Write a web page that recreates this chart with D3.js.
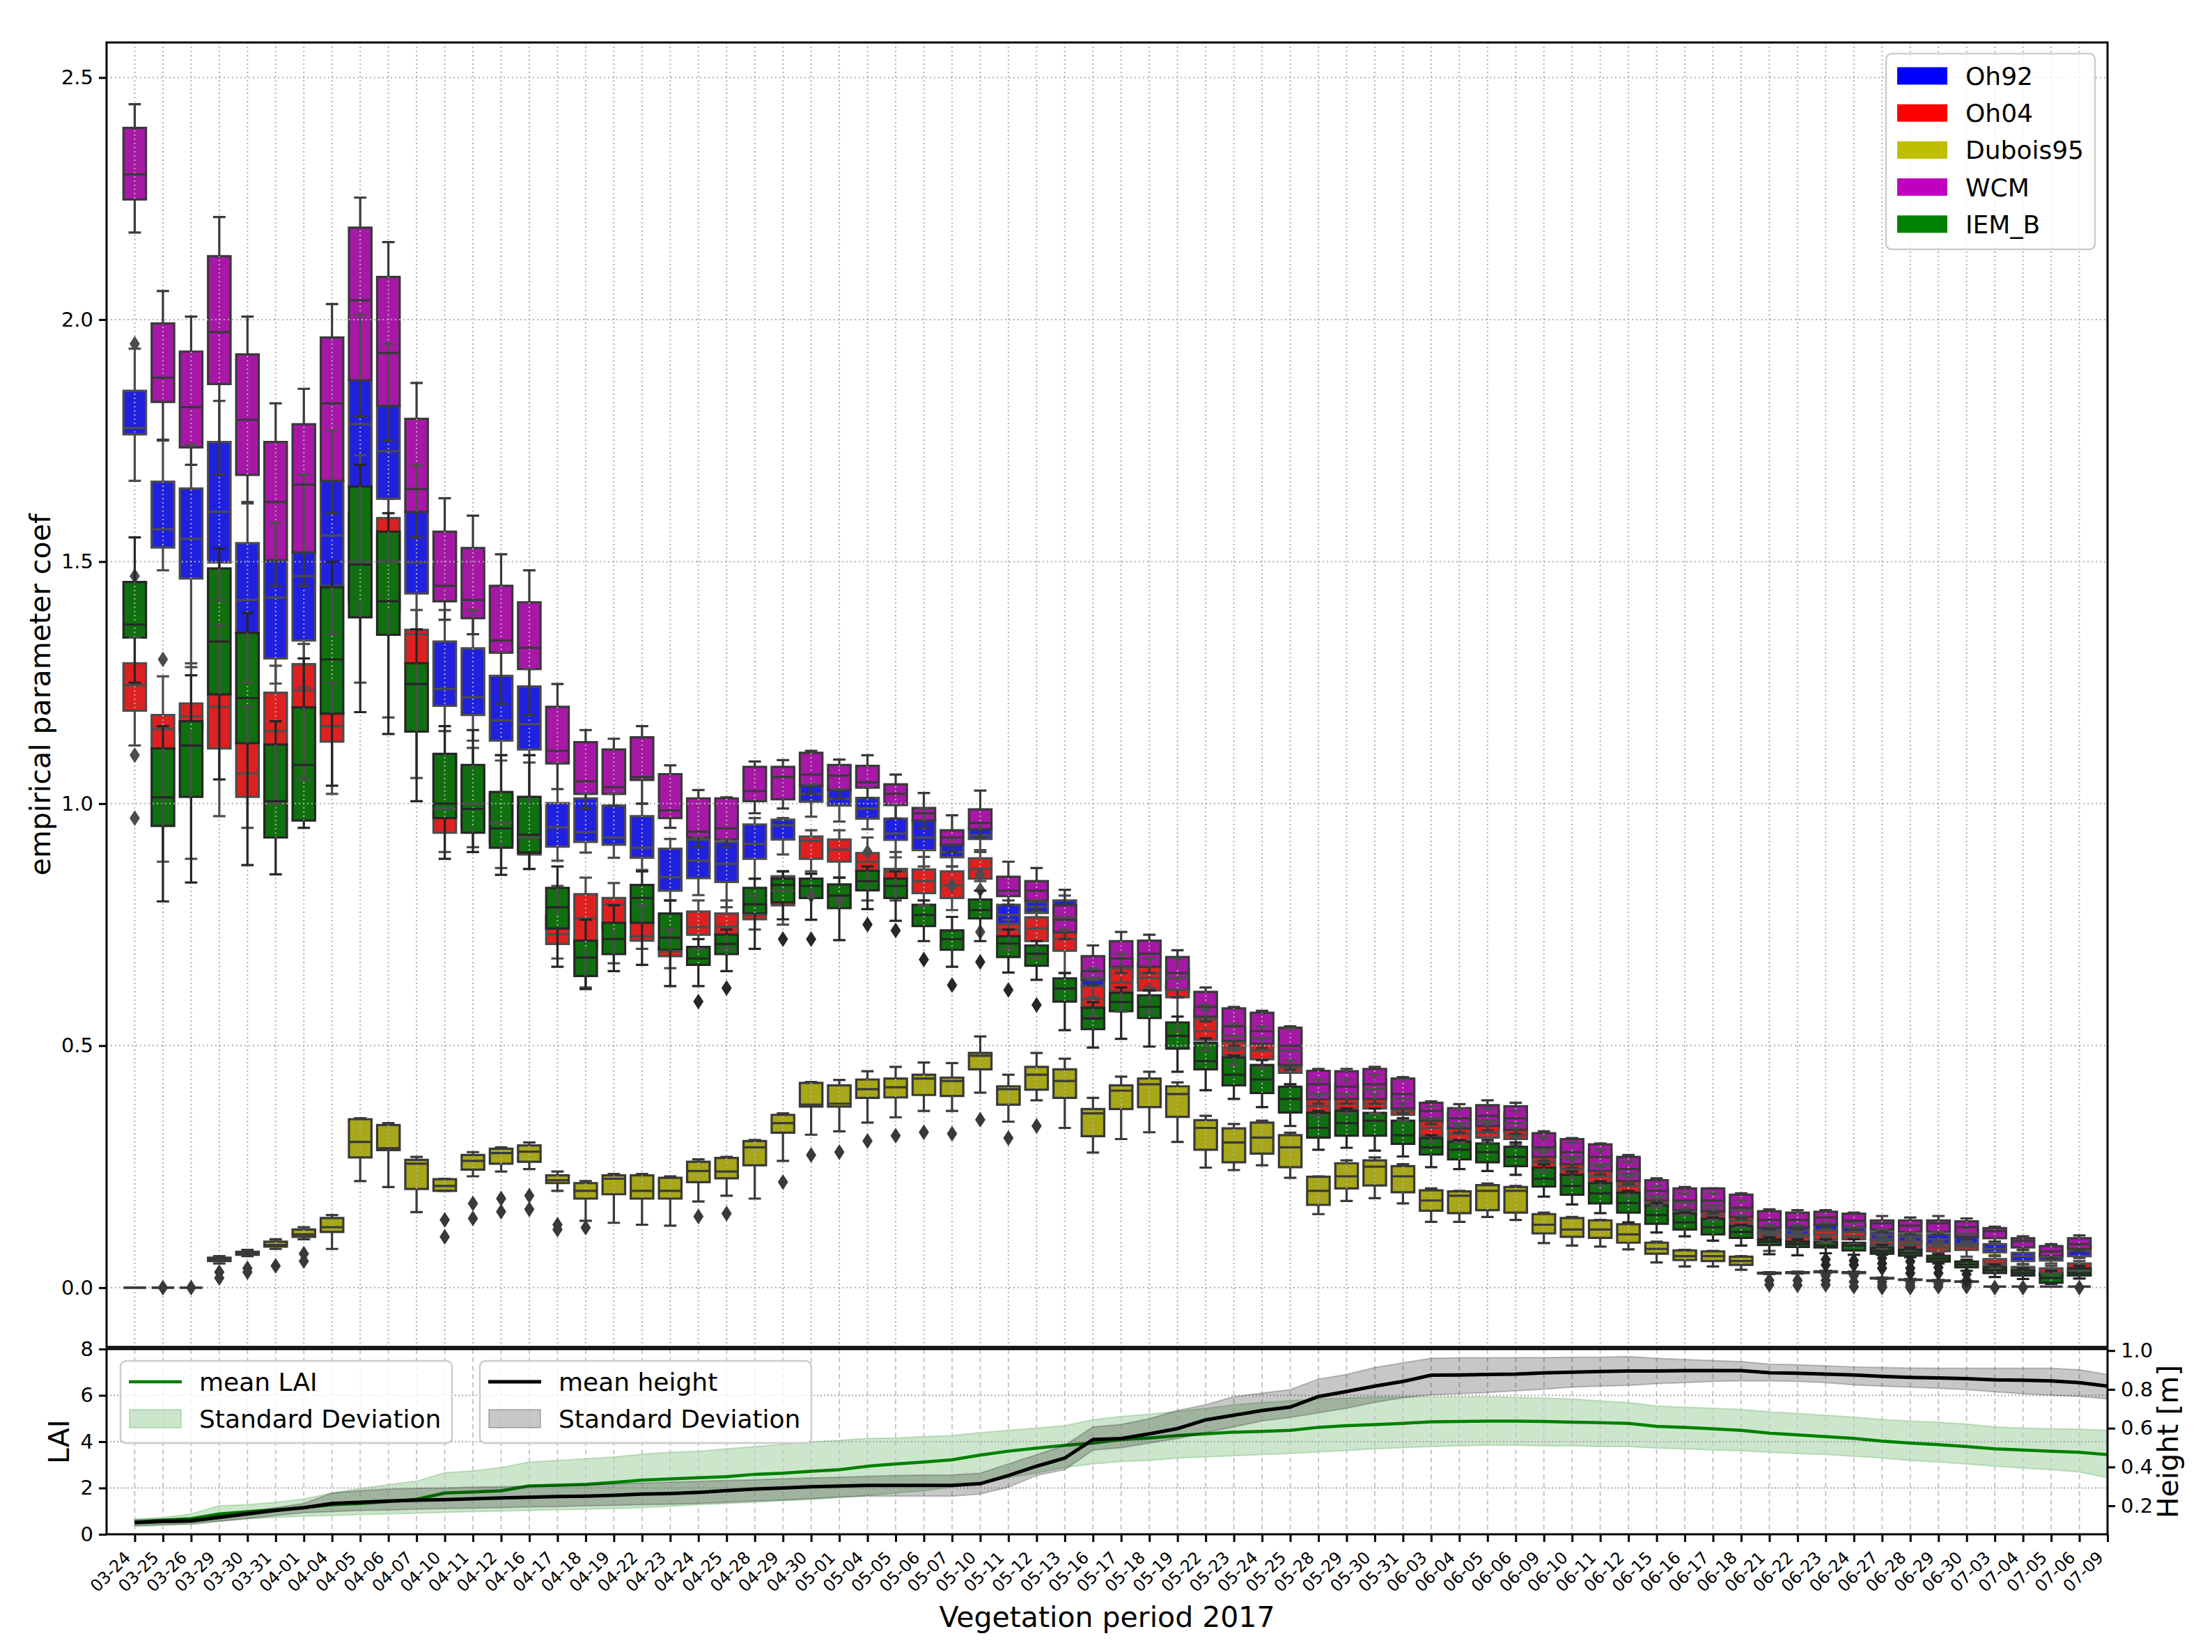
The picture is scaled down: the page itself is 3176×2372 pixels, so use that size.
<!DOCTYPE html>
<html>
<head>
<meta charset="utf-8">
<script src="https://cdn.jsdelivr.net/npm/d3@7"></script>
<style>
  body { margin: 0; background: #fff; }
  text { font-family: "DejaVu Sans", sans-serif; }
</style>
</head>
<body>
<div id="chart"></div>
<script>
// tick labels of the shared x axis (71 dates, positions 0..70)
const dates = ['03-24','03-25','03-26','03-29','03-30','03-31','04-01','04-04','04-05','04-06','04-07','04-10','04-11','04-12','04-16','04-17','04-18','04-19','04-22','04-23','04-24','04-25','04-28','04-29','04-30','05-01','05-04','05-05','05-06','05-07','05-10','05-11','05-12','05-13','05-16','05-17','05-18','05-19','05-22','05-23','05-24','05-25','05-28','05-29','05-30','05-31','06-03','06-04','06-05','06-06','06-09','06-10','06-11','06-12','06-15','06-16','06-17','06-18','06-21','06-22','06-23','06-24','06-27','06-28','06-29','06-30','07-03','07-04','07-05','07-06','07-09'];

const modelNames = ['Oh92', 'Oh04', 'Dubois95', 'WCM', 'IEM_B'];

// box statistics per position: [lower whisker, q1, median, q3, upper whisker]
const oh92Stats = [
[1.667,1.763,1.776,1.853,1.94],[1.482,1.529,1.567,1.665,1.75],[1.282,1.465,1.547,1.651,1.742],[1.42,1.498,1.603,1.747,1.832],
[1.25,1.353,1.421,1.538,1.62],[1.248,1.30,1.426,1.503,1.58],[1.24,1.337,1.47,1.519,1.68],[1.35,1.45,1.554,1.667,1.77],
[1.50,1.655,1.784,1.875,2.01],[1.50,1.63,1.728,1.822,1.95],[1.36,1.434,1.498,1.603,1.70],[1.15,1.202,1.237,1.335,1.40],
[1.13,1.183,1.22,1.321,1.40],[1.10,1.13,1.172,1.264,1.312],[1.10,1.112,1.164,1.242,1.278],[0.882,0.911,0.951,1.001,1.083],
[0.899,0.921,0.941,1.011,1.02],[0.888,0.915,0.93,0.996,1.02],[0.863,0.888,0.909,0.974,1.0],[0.80,0.82,0.848,0.907,0.927],
[0.811,0.846,0.882,0.926,0.93],[0.786,0.838,0.876,0.921,0.926],[0.845,0.886,0.917,0.957,0.97],[0.895,0.926,0.955,0.967,0.97],
[0.973,1.004,1.02,1.037,1.04],[0.963,0.996,1.01,1.028,1.03],[0.947,0.969,0.99,1.012,1.033],[0.889,0.925,0.938,0.969,0.997],
[0.87,0.904,0.93,0.965,0.99],[0.87,0.889,0.90,0.915,0.93],[0.90,0.927,0.935,0.947,0.96],[0.74,0.751,0.77,0.791,0.80],
[0.765,0.774,0.787,0.797,0.80],[0.72,0.74,0.765,0.80,0.81],[0.60,0.623,0.64,0.65,0.66],[0.63,0.64,0.66,0.68,0.69],
[0.62,0.63,0.65,0.67,0.68],[0.60,0.61,0.64,0.66,0.68],[0.53,0.54,0.555,0.575,0.585],[0.49,0.50,0.52,0.535,0.545],
[0.49,0.50,0.515,0.53,0.54],[0.45,0.46,0.49,0.531,0.535],[0.38,0.39,0.40,0.42,0.43],[0.38,0.39,0.40,0.42,0.43],
[0.38,0.39,0.41,0.43,0.44],[0.36,0.37,0.39,0.428,0.43],[0.33,0.34,0.35,0.37,0.375],[0.32,0.33,0.34,0.36,0.37],
[0.32,0.33,0.345,0.365,0.37],[0.31,0.32,0.34,0.36,0.365],[0.26,0.27,0.285,0.30,0.31],[0.24,0.25,0.27,0.29,0.30],
[0.23,0.24,0.255,0.275,0.285],[0.21,0.22,0.235,0.255,0.26],[0.17,0.175,0.19,0.205,0.21],[0.155,0.16,0.175,0.19,0.195],
[0.15,0.155,0.17,0.19,0.195],[0.14,0.145,0.16,0.175,0.18],[0.11,0.112,0.118,0.124,0.13],[0.10,0.11,0.118,0.125,0.13],
[0.105,0.112,0.119,0.13,0.135],[0.105,0.11,0.124,0.13,0.135],[0.095,0.1,0.109,0.115,0.12],[0.09,0.095,0.105,0.11,0.115],
[0.085,0.09,0.1,0.11,0.115],[0.085,0.09,0.111,0.118,0.125],[0.067,0.073,0.08,0.09,0.095],[0.049,0.055,0.065,0.072,0.078],
[0.05,0.056,0.063,0.07,0.075],[0.061,0.065,0.076,0.085,0.09]
];
const oh04Stats = [
[1.12,1.192,1.245,1.29,1.343],[0.88,1.114,1.154,1.183,1.263],[0.886,1.15,1.18,1.207,1.29],[0.974,1.114,1.20,1.226,1.37],
[0.95,1.014,1.0625,1.125,1.20],[1.0,1.122,1.15,1.229,1.285],[1.05,1.199,1.234,1.288,1.33],[1.02,1.128,1.16,1.186,1.25],
[1.25,1.42,1.50,1.60,1.72],[1.178,1.40,1.50,1.59,1.63],[1.053,1.29,1.35,1.359,1.40],[0.90,0.94,0.99,1.10,1.15],
[0.91,0.95,1.0,1.07,1.115],[0.867,0.92,0.96,1.02,1.089],[0.865,0.895,0.93,1.0,1.085],[0.68,0.71,0.73,0.77,0.83],
[0.62,0.70,0.763,0.813,0.847],[0.67,0.74,0.792,0.805,0.836],[0.70,0.717,0.726,0.754,0.79],[0.66,0.685,0.695,0.704,0.74],
[0.70,0.729,0.745,0.777,0.80],[0.70,0.729,0.746,0.773,0.80],[0.74,0.761,0.77,0.79,0.81],[0.75,0.79,0.82,0.85,0.86],
[0.86,0.886,0.923,0.932,0.945],[0.847,0.88,0.905,0.926,0.945],[0.80,0.862,0.88,0.898,0.93],[0.80,0.845,0.86,0.865,0.90],
[0.79,0.815,0.84,0.864,0.89],[0.78,0.805,0.831,0.86,0.87],[0.84,0.845,0.865,0.887,0.904],[0.70,0.726,0.74,0.751,0.76],
[0.68,0.716,0.742,0.765,0.775],[0.65,0.696,0.72,0.734,0.74],[0.56,0.58,0.596,0.623,0.636],[0.57,0.612,0.63,0.663,0.68],
[0.57,0.614,0.64,0.663,0.68],[0.53,0.60,0.615,0.63,0.64],[0.49,0.512,0.53,0.56,0.575],[0.46,0.48,0.495,0.508,0.52],
[0.455,0.472,0.49,0.504,0.515],[0.42,0.444,0.455,0.46,0.47],[0.355,0.361,0.375,0.389,0.40],[0.36,0.368,0.38,0.39,0.40],
[0.36,0.37,0.38,0.39,0.40],[0.345,0.357,0.365,0.37,0.38],[0.30,0.313,0.33,0.345,0.35],[0.30,0.305,0.318,0.329,0.335],
[0.30,0.31,0.32,0.334,0.34],[0.295,0.307,0.315,0.326,0.33],[0.24,0.248,0.26,0.27,0.28],[0.225,0.233,0.245,0.255,0.265],
[0.21,0.217,0.23,0.241,0.25],[0.19,0.198,0.21,0.22,0.23],[0.165,0.17,0.174,0.18,0.185],[0.15,0.153,0.157,0.16,0.165],
[0.14,0.143,0.15,0.158,0.162],[0.125,0.131,0.138,0.146,0.15],[0.076,0.1,0.108,0.114,0.118],[0.09,0.095,0.105,0.11,0.115],
[0.095,0.1,0.11,0.118,0.12],[0.09,0.1,0.106,0.115,0.12],[0.08,0.085,0.09,0.098,0.105],[0.075,0.08,0.088,0.095,0.1],
[0.07,0.075,0.083,0.09,0.095],[0.064,0.078,0.085,0.09,0.095],[0.04,0.045,0.05,0.059,0.065],[0.03,0.035,0.04,0.043,0.048],
[0.02,0.025,0.03,0.04,0.045],[0.019,0.025,0.035,0.05,0.055]
];
const dubois95Stats = [
[0,0,0,0,0],[0,0,0,0,0],[0,0,0,0,0],[0.05,0.055,0.058,0.062,0.065],
[0.065,0.068,0.07,0.074,0.078],[0.08,0.085,0.088,0.095,0.10],[0.10,0.105,0.11,0.12,0.125],[0.08,0.115,0.125,0.144,0.15],
[0.22,0.269,0.301,0.348,0.35],[0.208,0.284,0.288,0.336,0.34],[0.156,0.204,0.256,0.264,0.27],[0.20,0.20,0.21,0.224,0.225],
[0.23,0.244,0.262,0.274,0.28],[0.24,0.256,0.278,0.287,0.29],[0.245,0.26,0.281,0.294,0.30],[0.20,0.216,0.222,0.232,0.24],
[0.138,0.184,0.20,0.216,0.22],[0.134,0.193,0.225,0.232,0.235],[0.13,0.184,0.20,0.232,0.235],[0.128,0.184,0.20,0.227,0.23],
[0.178,0.218,0.241,0.26,0.265],[0.19,0.226,0.24,0.268,0.27],[0.184,0.253,0.29,0.303,0.305],[0.262,0.32,0.34,0.357,0.36],
[0.316,0.374,0.378,0.423,0.425],[0.323,0.374,0.38,0.418,0.429],[0.341,0.392,0.41,0.43,0.447],[0.352,0.393,0.414,0.432,0.456],
[0.365,0.398,0.432,0.44,0.465],[0.365,0.396,0.427,0.434,0.464],[0.403,0.451,0.479,0.485,0.519],[0.343,0.378,0.41,0.416,0.44],
[0.387,0.409,0.44,0.456,0.485],[0.33,0.392,0.427,0.451,0.473],[0.279,0.313,0.36,0.369,0.392],[0.307,0.369,0.407,0.418,0.436],
[0.321,0.373,0.42,0.432,0.446],[0.301,0.353,0.40,0.416,0.424],[0.248,0.285,0.33,0.346,0.355],[0.243,0.259,0.30,0.329,0.338],
[0.253,0.277,0.31,0.341,0.345],[0.227,0.249,0.29,0.315,0.32],[0.152,0.171,0.20,0.229,0.23],[0.179,0.205,0.23,0.257,0.263],
[0.185,0.211,0.25,0.263,0.269],[0.174,0.197,0.23,0.251,0.255],[0.136,0.159,0.18,0.201,0.205],[0.136,0.154,0.19,0.199,0.20],
[0.146,0.16,0.20,0.212,0.215],[0.14,0.155,0.20,0.208,0.21],[0.092,0.112,0.13,0.152,0.155],[0.087,0.105,0.12,0.144,0.146],
[0.085,0.103,0.12,0.139,0.14],[0.079,0.093,0.11,0.131,0.133],[0.052,0.07,0.08,0.093,0.095],[0.044,0.057,0.065,0.077,0.078],
[0.044,0.055,0.065,0.075,0.076],[0.037,0.047,0.055,0.064,0.065],[0.028,0.029,0.03,0.031,0.032],[0.029,0.03,0.031,0.032,0.033],
[0.03,0.032,0.033,0.034,0.035],[0.029,0.03,0.031,0.032,0.033],[0.018,0.019,0.019,0.02,0.021],[0.015,0.016,0.016,0.017,0.018],
[0.013,0.014,0.014,0.015,0.016],[0.011,0.012,0.012,0.013,0.014],[0.002,0.002,0.002,0.002,0.002],[0.002,0.002,0.002,0.002,0.002],
[0.002,0.002,0.002,0.002,0.002],[0.002,0.002,0.002,0.002,0.002]
];
const wcmStats = [
[2.18,2.248,2.30,2.396,2.445],[1.752,1.83,1.88,1.992,2.059],[1.70,1.736,1.819,1.934,2.006],[1.68,1.867,1.974,2.131,2.212],
[1.623,1.679,1.793,1.928,2.006],[1.45,1.503,1.623,1.747,1.827],[1.45,1.519,1.659,1.784,1.857],[1.60,1.667,1.827,1.963,2.032],
[1.80,1.875,2.04,2.19,2.252],[1.75,1.822,1.931,2.088,2.16],[1.55,1.603,1.65,1.795,1.869],[1.38,1.418,1.45,1.562,1.631],
[1.35,1.383,1.421,1.528,1.595],[1.206,1.312,1.337,1.45,1.515],[1.183,1.278,1.322,1.416,1.482],[1.03,1.083,1.109,1.20,1.247],
[0.99,1.02,1.046,1.127,1.152],[0.996,1.02,1.034,1.112,1.134],[1.0,1.049,1.055,1.137,1.16],[0.95,0.97,0.986,1.061,1.079],
[0.91,0.93,0.942,1.011,1.028],[0.91,0.926,0.949,1.011,1.013],[0.98,1.005,1.026,1.076,1.087],[0.99,1.009,1.055,1.076,1.09],
[1.02,1.037,1.06,1.105,1.109],[1.01,1.028,1.058,1.08,1.091],[1.012,1.033,1.044,1.078,1.10],[0.969,0.997,1.02,1.04,1.06],
[0.95,0.965,0.98,0.991,1.022],[0.90,0.915,0.93,0.945,0.976],[0.93,0.947,0.96,0.988,1.027],[0.791,0.809,0.82,0.849,0.88],
[0.78,0.80,0.82,0.84,0.867],[0.72,0.734,0.76,0.79,0.822],[0.625,0.636,0.654,0.685,0.707],[0.65,0.663,0.68,0.716,0.735],
[0.65,0.663,0.69,0.717,0.729],[0.60,0.615,0.65,0.683,0.697],[0.55,0.56,0.58,0.611,0.62],[0.50,0.51,0.54,0.577,0.58],
[0.495,0.504,0.53,0.568,0.572],[0.45,0.46,0.50,0.537,0.54],[0.38,0.389,0.42,0.448,0.452],[0.38,0.39,0.415,0.447,0.452],
[0.38,0.39,0.42,0.452,0.456],[0.36,0.37,0.40,0.432,0.435],[0.338,0.345,0.365,0.382,0.385],[0.32,0.329,0.35,0.371,0.379],
[0.325,0.334,0.355,0.377,0.387],[0.318,0.326,0.35,0.375,0.382],[0.262,0.27,0.29,0.319,0.323],[0.248,0.255,0.28,0.307,0.309],
[0.234,0.241,0.27,0.296,0.298],[0.214,0.22,0.245,0.27,0.274],[0.175,0.18,0.20,0.222,0.226],[0.156,0.16,0.18,0.205,0.208],
[0.154,0.158,0.18,0.205,0.205],[0.142,0.146,0.165,0.192,0.195],[0.12,0.124,0.14,0.158,0.162],[0.12,0.125,0.14,0.155,0.16],
[0.125,0.13,0.145,0.157,0.16],[0.12,0.125,0.138,0.153,0.155],[0.115,0.12,0.133,0.139,0.148],[0.11,0.115,0.128,0.139,0.145],
[0.11,0.115,0.133,0.139,0.148],[0.1,0.105,0.125,0.137,0.143],[0.095,0.102,0.117,0.123,0.126],[0.078,0.083,0.096,0.102,0.106],
[0.06,0.065,0.075,0.086,0.09],[0.075,0.08,0.09,0.102,0.108]
];
const iemBStats = [
[1.25,1.343,1.37,1.458,1.55],[0.798,0.954,1.013,1.114,1.16],[0.837,1.014,1.12,1.17,1.265],[1.05,1.226,1.335,1.486,1.527],
[0.873,1.125,1.218,1.353,1.394],[0.854,0.93,1.005,1.122,1.17],[0.95,0.965,1.08,1.199,1.30],[1.037,1.186,1.298,1.447,1.50],
[1.189,1.385,1.494,1.655,1.70],[1.144,1.349,1.418,1.562,1.60],[1.005,1.149,1.247,1.29,1.36],[0.886,0.97,1.0,1.103,1.16],
[0.90,0.94,0.989,1.08,1.152],[0.853,0.909,0.949,1.024,1.10],[0.865,0.899,0.936,1.014,1.10],[0.663,0.742,0.786,0.826,0.87],
[0.617,0.644,0.682,0.717,0.76],[0.654,0.689,0.72,0.754,0.79],[0.667,0.754,0.805,0.832,0.86],[0.623,0.698,0.723,0.773,0.80],
[0.623,0.667,0.68,0.704,0.72],[0.654,0.689,0.71,0.729,0.74],[0.70,0.773,0.792,0.826,0.845],[0.761,0.796,0.832,0.845,0.86],
[0.76,0.805,0.83,0.845,0.855],[0.718,0.784,0.81,0.833,0.847],[0.782,0.821,0.84,0.861,0.87],[0.758,0.805,0.83,0.845,0.86],
[0.716,0.747,0.77,0.791,0.80],[0.663,0.698,0.72,0.738,0.766],[0.716,0.763,0.78,0.802,0.82],[0.651,0.683,0.711,0.726,0.74],
[0.636,0.665,0.69,0.707,0.716],[0.532,0.591,0.618,0.639,0.65],[0.496,0.534,0.556,0.578,0.59],[0.514,0.571,0.59,0.609,0.62],
[0.498,0.557,0.58,0.604,0.614],[0.446,0.494,0.52,0.548,0.56],[0.408,0.451,0.468,0.506,0.515],[0.39,0.418,0.44,0.476,0.48],
[0.373,0.402,0.43,0.46,0.47],[0.334,0.362,0.39,0.415,0.42],[0.285,0.31,0.33,0.361,0.365],[0.289,0.314,0.34,0.365,0.37],
[0.283,0.314,0.345,0.361,0.37],[0.271,0.297,0.315,0.345,0.35],[0.249,0.275,0.29,0.309,0.315],[0.245,0.265,0.285,0.301,0.305],
[0.241,0.259,0.28,0.298,0.305],[0.233,0.251,0.27,0.291,0.30],[0.188,0.209,0.225,0.248,0.255],[0.172,0.192,0.21,0.233,0.24],
[0.154,0.174,0.195,0.216,0.22],[0.135,0.155,0.175,0.196,0.20],[0.114,0.132,0.15,0.17,0.175],[0.106,0.12,0.135,0.153,0.155],
[0.097,0.11,0.125,0.142,0.145],[0.087,0.103,0.115,0.127,0.13],[0.069,0.088,0.095,0.1,0.104],[0.067,0.084,0.09,0.095,0.1],
[0.071,0.083,0.087,0.095,0.1],[0.068,0.077,0.087,0.093,0.1],[0.068,0.07,0.076,0.082,0.088],[0.063,0.066,0.072,0.078,0.083],
[0.05,0.054,0.06,0.066,0.07],[0.035,0.042,0.048,0.054,0.058],[0.022,0.03,0.036,0.042,0.048],[0.018,0.025,0.03,0.036,0.04],
[0.008,0.01,0.02,0.03,0.035],[0.019,0.025,0.03,0.04,0.045]
];

// outliers: [position, value]
const oh92Fliers = [[0,1.95],[26,0.90],[29,0.831],[30,0.853],[30,0.822]];
const oh04Fliers = [[0,1.47],[0,1.10],[0,0.97],[1,1.298],[24,0.81],[25,0.80],[30,0.735]];
const dubois95Fliers = [[1,0],[2,0],[3,0.032],[3,0.02],[4,0.04],[4,0.032],[5,0.045],[6,0.07],[6,0.055],
  [11,0.14],[11,0.105],[12,0.174],[12,0.143],[13,0.184],[13,0.157],[14,0.19],[14,0.162],[15,0.13],[15,0.12],[16,0.124],
  [20,0.147],[21,0.153],[23,0.218],[24,0.274],[25,0.28],[26,0.303],[27,0.314],[28,0.321],[29,0.318],[30,0.347],[31,0.309],[32,0.334],
  [58,0.015],[58,0.006],[59,0.015],[59,0.005],[60,0.025],[60,0.015],[60,0.006],[61,0.025],[61,0.012],[61,0.002],
  [62,0.012],[62,0.005],[62,0.0],[63,0.01],[63,0.004],[63,0.0],[64,0.008],[64,0.002],[65,0.006],[65,0.002],[66,0.0],[67,0.0],[69,0.0]];
const wcmFliers = [];
const iemBFliers = [[20,0.591],[21,0.619],[23,0.72],[24,0.72],[26,0.75],[27,0.738],[28,0.678],[29,0.625],[30,0.673],[31,0.615],[32,0.584],
  [60,0.058],[60,0.047],[61,0.056],[61,0.047],[62,0.061],[62,0.05],[62,0.04],[63,0.054],[63,0.04],[63,0.03],[64,0.042],[64,0.03],[65,0.028],[65,0.015]];

// lower panel, positions 0..70
const laiMean = [0.53,0.61,0.68,0.88,0.98,1.06,1.15,1.28,1.33,1.41,1.51,1.78,1.83,1.88,2.09,2.12,2.16,2.24,2.34,2.39,2.44,2.49,2.59,2.64,2.72,2.79,2.94,3.04,3.12,3.22,3.42,3.59,3.72,3.84,3.94,
  4.09,4.16,4.26,4.34,4.41,4.44,4.49,4.62,4.69,4.74,4.79,4.86,4.87,4.89,4.89,4.87,4.84,4.82,4.79,4.66,4.62,4.56,4.49,4.37,4.29,4.22,4.14,4.02,3.94,3.87,3.79,3.69,3.64,3.59,3.54,3.44];
const laiUpper = [0.65,0.73,0.88,1.23,1.28,1.38,1.53,1.78,1.98,2.14,2.29,2.66,2.74,2.89,3.12,3.19,3.26,3.34,3.46,3.54,3.59,3.69,3.79,3.89,3.99,4.06,4.14,4.16,4.22,4.26,4.39,4.49,4.59,4.69,4.95,
  5.09,5.19,5.31,5.44,5.59,5.69,5.77,5.84,5.89,5.93,5.94,5.94,5.94,5.94,5.92,5.89,5.84,5.76,5.69,5.54,5.49,5.44,5.39,5.29,5.22,5.14,5.06,4.96,4.89,4.84,4.76,4.64,4.59,4.56,4.54,4.49];
const laiLower = [0.33,0.38,0.48,0.58,0.68,0.73,0.78,0.81,0.85,0.88,0.91,0.95,0.98,1.0,1.03,1.06,1.08,1.11,1.15,1.21,1.28,1.33,1.38,1.45,1.51,1.58,1.68,1.78,1.88,2.04,2.19,2.44,2.64,2.89,3.04,
  3.14,3.19,3.29,3.34,3.39,3.44,3.49,3.56,3.62,3.69,3.74,3.79,3.82,3.84,3.84,3.82,3.82,3.79,3.79,3.72,3.69,3.64,3.61,3.54,3.49,3.44,3.37,3.29,3.19,3.12,3.04,2.94,2.86,2.79,2.69,2.44];
const heightMean = [0.113,0.119,0.122,0.14,0.158,0.176,0.19,0.212,0.218,0.224,0.229,0.232,0.236,0.241,0.244,0.248,0.25,0.254,0.26,0.263,0.269,0.278,0.286,0.292,0.298,0.302,0.305,0.305,0.305,0.305,0.314,0.356,0.404,0.446,0.541,
  0.547,0.571,0.598,0.643,0.667,0.691,0.709,0.763,0.789,0.817,0.841,0.873,0.874,0.877,0.879,0.885,0.889,0.892,0.895,0.895,0.897,0.897,0.897,0.886,0.883,0.879,0.874,0.867,0.862,0.859,0.855,0.849,0.847,0.844,0.835,0.817];
const heightUpper = [0.128,0.132,0.134,0.152,0.17,0.19,0.212,0.266,0.278,0.286,0.29,0.292,0.296,0.298,0.302,0.305,0.308,0.313,0.317,0.322,0.326,0.33,0.334,0.339,0.344,0.347,0.352,0.356,0.358,0.359,0.368,0.416,0.463,0.511,0.607,
  0.619,0.649,0.691,0.721,0.763,0.781,0.799,0.853,0.877,0.913,0.937,0.96,0.963,0.963,0.964,0.964,0.966,0.966,0.969,0.96,0.954,0.949,0.943,0.931,0.927,0.922,0.916,0.913,0.91,0.909,0.909,0.909,0.909,0.909,0.901,0.877];
const heightLower = [0.098,0.102,0.104,0.119,0.134,0.15,0.164,0.17,0.176,0.178,0.182,0.186,0.188,0.19,0.194,0.196,0.2,0.202,0.206,0.208,0.212,0.218,0.224,0.23,0.236,0.246,0.25,0.25,0.25,0.25,0.26,0.296,0.356,0.386,0.487,
  0.499,0.523,0.547,0.577,0.607,0.637,0.655,0.679,0.703,0.733,0.757,0.772,0.777,0.784,0.793,0.801,0.811,0.817,0.82,0.829,0.835,0.841,0.844,0.844,0.841,0.835,0.823,0.817,0.811,0.805,0.799,0.787,0.777,0.769,0.763,0.751];

const yTicks = [0, 0.5, 1.0, 1.5, 2.0, 2.5];
const laiTicks = [0, 2, 4, 6, 8];
const heightTicks = [0.2, 0.4, 0.6, 0.8, 1.0];

// ---------------------------------------------------------------
const W = 3176, H = 2372;
const plotL = 153, plotR = 3026;
const mainT = 61, mainB = 1934;
const lowT = 1937, lowB = 2203;
const font = '"DejaVu Sans", sans-serif';

const svg = d3.select('#chart').append('svg')
    .attr('width', W).attr('height', H)
    .style('background', '#fff');

const x = d3.scaleLinear().domain([-1, 70]).range([plotL, plotR]);
const y = d3.scaleLinear().domain([-0.1225, 2.5725]).range([mainB, mainT]);
const yLai = d3.scaleLinear().domain([0, 8]).range([lowB, lowT]);
const yHeight = d3.scaleLinear().domain([0.053, 1.008]).range([lowB, lowT]);

const boxW = (x(1) - x(0)) * 0.8;
const capW = boxW * 0.55;

const models = [
    { stats: oh92Stats, fliers: oh92Fliers, fill: '#2020df', edge: '#4c4c4c', key: '#0000ff' },
    { stats: oh04Stats, fliers: oh04Fliers, fill: '#df2020', edge: '#4c4c4c', key: '#ff0000' },
    { stats: dubois95Stats, fliers: dubois95Fliers, fill: '#a7a718', edge: '#393939', key: '#bfbf00' },
    { stats: wcmStats, fliers: wcmFliers, fill: '#a718a7', edge: '#393939', key: '#bf00bf' },
    { stats: iemBStats, fliers: iemBFliers, fill: '#107010', edge: '#262626', key: '#008000' }
];

// ---------- main panel ----------
// box patches first (all models), then grid, then whiskers/medians/fliers on top
const boxLayer = svg.append('g');
models.forEach(m => {
    boxLayer.append('g').selectAll('path')
        .data(m.stats)
        .join('path')
        .attr('d', (d, i) => {
            const x0 = x(i) - boxW / 2, x1 = x(i) + boxW / 2;
            return `M${x0},${y(d[3])}H${x1}V${y(d[1])}H${x0}Z`;
        })
        .attr('fill', m.fill)
        .attr('stroke', m.edge)
        .attr('stroke-width', 3.2);
});

const grid = svg.append('g')
    .attr('stroke', '#b0b0b0')
    .attr('stroke-width', 2)
    .attr('stroke-dasharray', '2,4');
grid.selectAll('.vg').data(d3.range(0, 70)).join('line')
    .attr('x1', d => x(d)).attr('x2', d => x(d))
    .attr('y1', mainT).attr('y2', mainB);
grid.selectAll('.hg').data(yTicks).join('line')
    .attr('x1', plotL).attr('x2', plotR)
    .attr('y1', d => y(d)).attr('y2', d => y(d));

const lineLayer = svg.append('g').attr('fill', 'none');
models.forEach(m => {
    const g = lineLayer.append('g').attr('stroke', m.edge).attr('stroke-width', 3.2);
    g.selectAll('.wh').data(m.stats).join('path')
        .attr('d', (d, i) => {
            const cx = x(i);
            return `M${cx},${y(d[1])}V${y(d[0])}M${cx},${y(d[3])}V${y(d[4])}` +
                `M${cx - capW / 2},${y(d[0])}H${cx + capW / 2}M${cx - capW / 2},${y(d[4])}H${cx + capW / 2}` +
                `M${cx - boxW / 2},${y(d[2])}H${cx + boxW / 2}`;
        });
    lineLayer.append('g').selectAll('path').data(m.fliers).join('path')
        .attr('d', d => {
            const cx = x(d[0]), cy = y(d[1]);
            return `M${cx},${cy - 10}L${cx + 6.5},${cy}L${cx},${cy + 10}L${cx - 6.5},${cy}Z`;
        })
        .attr('fill', m.edge)
        .attr('stroke', m.edge)
        .attr('stroke-width', 1.5);
});

// frame
svg.append('rect')
    .attr('x', plotL).attr('y', mainT)
    .attr('width', plotR - plotL).attr('height', mainB - mainT)
    .attr('fill', 'none').attr('stroke', '#000').attr('stroke-width', 3);

// y axis
const yAxis = svg.append('g')
    .attr('transform', `translate(${plotL},0)`)
    .call(d3.axisLeft(y).tickValues(yTicks).tickFormat(d3.format('.1f')).tickSize(11).tickPadding(8));
yAxis.select('.domain').remove();
yAxis.selectAll('.tick line').attr('stroke', '#000').attr('stroke-width', 3);
yAxis.selectAll('.tick text').attr('font-size', 29).attr('font-family', font).attr('fill', '#000');

svg.append('text')
    .attr('transform', `translate(72,${(mainT + mainB) / 2}) rotate(-90)`)
    .attr('text-anchor', 'middle')
    .attr('font-size', 41)
    .text('empirical parameter coef');

// legend of models
const legMain = svg.append('g');
legMain.append('rect')
    .attr('x', 2708).attr('y', 77).attr('width', 300).attr('height', 281).attr('rx', 8)
    .attr('fill', '#fff').attr('fill-opacity', 0.8)
    .attr('stroke', '#cccccc').attr('stroke-width', 2.5);
models.forEach((m, i) => {
    const cy = 109 + i * 53.2;
    legMain.append('rect')
        .attr('x', 2724).attr('y', cy - 12.5).attr('width', 72).attr('height', 25)
        .attr('fill', m.key);
    legMain.append('text')
        .attr('x', 2822).attr('y', cy + 13)
        .attr('font-size', 36)
        .text(modelNames[i]);
});

// ---------- lower panel ----------
const idx = d3.range(laiMean.length);

svg.append('path')
    .datum(idx)
    .attr('d', d3.area().x(i => x(i)).y0(i => yLai(laiLower[i])).y1(i => yLai(laiUpper[i])))
    .attr('fill', '#008000').attr('fill-opacity', 0.2)
    .attr('stroke', '#008000').attr('stroke-opacity', 0.2).attr('stroke-width', 2);

const lowGrid = svg.append('g');
lowGrid.selectAll('line.v').data(d3.range(0, 70)).join('line')
    .attr('x1', d => x(d)).attr('x2', d => x(d))
    .attr('y1', lowT).attr('y2', lowB)
    .attr('stroke', '#c8c8c8').attr('stroke-width', 2).attr('stroke-dasharray', '7,5');
lowGrid.selectAll('line.h').data([2, 4, 6]).join('line')
    .attr('x1', plotL).attr('x2', plotR)
    .attr('y1', d => yLai(d)).attr('y2', d => yLai(d))
    .attr('stroke', '#a8a8a8').attr('stroke-width', 2).attr('stroke-dasharray', '2,3');

svg.append('path')
    .datum(idx)
    .attr('d', d3.line().x(i => x(i)).y(i => yLai(laiMean[i])))
    .attr('fill', 'none').attr('stroke', '#008000').attr('stroke-width', 4.5);

svg.append('path')
    .datum(idx)
    .attr('d', d3.area().x(i => x(i)).y0(i => yHeight(heightLower[i])).y1(i => yHeight(heightUpper[i])))
    .attr('fill', '#000').attr('fill-opacity', 0.22)
    .attr('stroke', '#000').attr('stroke-opacity', 0.22).attr('stroke-width', 2);

svg.append('path')
    .datum(idx)
    .attr('d', d3.line().x(i => x(i)).y(i => yHeight(heightMean[i])))
    .attr('fill', 'none').attr('stroke', '#000').attr('stroke-width', 5);

svg.append('rect')
    .attr('x', plotL).attr('y', lowT)
    .attr('width', plotR - plotL).attr('height', lowB - lowT)
    .attr('fill', 'none').attr('stroke', '#000').attr('stroke-width', 3);

const laiAxis = svg.append('g')
    .attr('transform', `translate(${plotL},0)`)
    .call(d3.axisLeft(yLai).tickValues(laiTicks).tickFormat(d3.format('d')).tickSize(11).tickPadding(8));
laiAxis.select('.domain').remove();
laiAxis.selectAll('.tick line').attr('stroke', '#000').attr('stroke-width', 3);
laiAxis.selectAll('.tick text').attr('font-size', 29).attr('font-family', font).attr('fill', '#000');

const hAxis = svg.append('g')
    .attr('transform', `translate(${plotR},0)`)
    .call(d3.axisRight(yHeight).tickValues(heightTicks).tickFormat(d3.format('.1f')).tickSize(11).tickPadding(8));
hAxis.select('.domain').remove();
hAxis.selectAll('.tick line').attr('stroke', '#000').attr('stroke-width', 3);
hAxis.selectAll('.tick text').attr('font-size', 29).attr('font-family', font).attr('fill', '#000');

const xAxis = svg.append('g')
    .attr('transform', `translate(0,${lowB})`)
    .call(d3.axisBottom(x).tickValues(d3.range(dates.length)).tickFormat(i => dates[i]).tickSize(11));
xAxis.select('.domain').remove();
xAxis.selectAll('.tick line').attr('stroke', '#000').attr('stroke-width', 3);
xAxis.selectAll('.tick text')
    .attr('x', 0).attr('y', 0).attr('dy', null)
    .attr('transform', 'translate(-5,35) rotate(-45)')
    .attr('text-anchor', 'end')
    .attr('font-size', 24).attr('font-family', font).attr('fill', '#000');

svg.append('text')
    .attr('transform', `translate(99,${(lowT + lowB) / 2}) rotate(-90)`)
    .attr('text-anchor', 'middle')
    .attr('font-size', 41)
    .text('LAI');

svg.append('text')
    .attr('transform', `translate(3127,${(lowT + lowB) / 2}) rotate(-90)`)
    .attr('text-anchor', 'middle')
    .attr('font-size', 41)
    .text('Height [m]');

svg.append('text')
    .attr('x', (plotL + plotR) / 2).attr('y', 2336)
    .attr('text-anchor', 'middle')
    .attr('font-size', 41)
    .text('Vegetation period 2017');

// lower legends
function lowerLegend(x0, lineColor, lineWidth, patchColor, patchOpacity, label) {
    const g = svg.append('g');
    g.append('rect')
        .attr('x', x0).attr('y', 1954).attr('width', 476).attr('height', 118).attr('rx', 8)
        .attr('fill', '#fff').attr('fill-opacity', 0.8)
        .attr('stroke', '#cccccc').attr('stroke-width', 2.5);
    g.append('line')
        .attr('x1', x0 + 12).attr('x2', x0 + 88)
        .attr('y1', 1984).attr('y2', 1984)
        .attr('stroke', lineColor).attr('stroke-width', lineWidth);
    g.append('rect')
        .attr('x', x0 + 13).attr('y', 2024).attr('width', 74).attr('height', 26)
        .attr('fill', patchColor).attr('fill-opacity', patchOpacity)
        .attr('stroke', patchColor).attr('stroke-opacity', patchOpacity).attr('stroke-width', 2);
    g.append('text').attr('x', x0 + 113).attr('y', 1997).attr('font-size', 36).text(label);
    g.append('text').attr('x', x0 + 113).attr('y', 2050).attr('font-size', 36).text('Standard Deviation');
}
lowerLegend(173, '#008000', 4.5, '#008000', 0.2, 'mean LAI');
lowerLegend(689, '#000', 5, '#000', 0.22, 'mean height');
</script>
</body>
</html>
